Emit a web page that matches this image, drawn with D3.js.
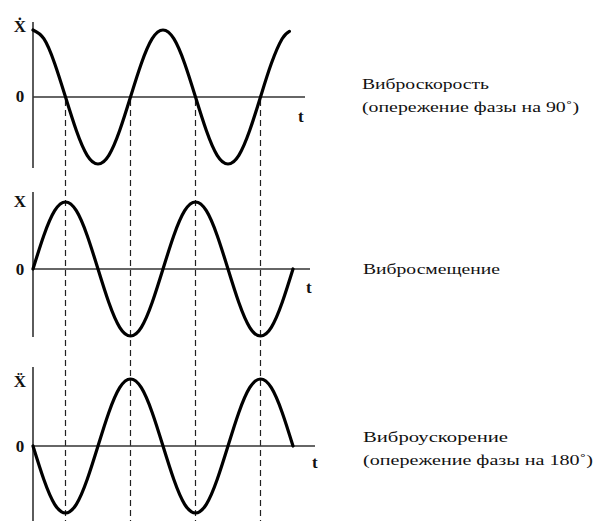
<!DOCTYPE html>
<html>
<head>
<meta charset="utf-8">
<script src="https://cdn.jsdelivr.net/npm/d3@7"></script>
<style>
  html, body { margin: 0; padding: 0; background: #fff; }
  svg { display: block; }
</style>
</head>
<body>
<svg id="chart" width="595" height="521"></svg>
<script>
// Phase (degrees) sampled every 30°
const phase = [0,30,60,90,120,150,180,210,240,270,300,330,360,390,420,450,480,510,540,570,600,630,660,690,720];
// Vibration velocity (leads displacement by 90°), normalised
const velocity = [1,0.87,0.5,0,-0.5,-0.87,-1,-0.87,-0.5,0,0.5,0.87,1,0.87,0.5,0,-0.5,-0.87,-1,-0.87,-0.5,0,0.5,0.87,0.98];
// Vibration displacement
const displacement = [0,0.5,0.87,1,0.87,0.5,0,-0.5,-0.87,-1,-0.87,-0.5,0,0.5,0.87,1,0.87,0.5,0,-0.5,-0.87,-1,-0.87,-0.5,0];
// Vibration acceleration (leads displacement by 180°)
const acceleration = [0,-0.5,-0.87,-1,-0.87,-0.5,0,0.5,0.87,1,0.87,0.5,0,-0.5,-0.87,-1,-0.87,-0.5,0,0.5,0.87,1,0.87,0.5,0];
// Velocity series ends slightly before 720°
const velocityEnd = 710;
// Dashed reference phases
const markers = [90,270,450,630];

const panelLabels = ["Ẋ","X","Ẍ"];
const captions = [
  ["Виброскорость","(опережение фазы на 90˚)"],
  ["Вибросмещение"],
  ["Виброускорение","(опережение фазы на 180˚)"]
];

const SERIF = "Liberation Serif";
const svg = d3.select("#chart");
const x = d3.scaleLinear().domain([0,720]).range([33,293]);

const panels = [
  {vals: velocity, zero: 97, axisTop: 22, axisBot: 168, zeroEnd: 305, tx: 298, ty: 122, labY: 32, zeroY: 102, lastPhase: velocityEnd,
   cap: {x: 362, ys: [89, 112], w: [127, 217]}},
  {vals: displacement, zero: 269, axisTop: 192, axisBot: 337, zeroEnd: 310, tx: 306, ty: 293, labY: 207, zeroY: 275, lastPhase: 720,
   cap: {x: 363, ys: [274], w: [137]}},
  {vals: acceleration, zero: 446, axisTop: 367, axisBot: 521, zeroEnd: 315, tx: 312, ty: 468, labY: 387, zeroY: 452, lastPhase: 720,
   cap: {x: 363, ys: [442, 465], w: [145, 230]}}
];

// Dashed vertical lines
svg.append("g").selectAll("line").data(markers).join("line")
  .attr("x1", d => x(d)).attr("x2", d => x(d))
  .attr("y1", 100).attr("y2", 521)
  .attr("stroke", "#222").attr("stroke-width", 1.2)
  .attr("stroke-dasharray", "6,4");

panels.forEach((p, i) => {
  const y = d3.scaleLinear().domain([-1,1]).range([p.zero + 67, p.zero - 67]);
  const g = svg.append("g");
  // vertical axis
  g.append("line").attr("x1", 33).attr("x2", 33).attr("y1", p.axisTop).attr("y2", p.axisBot)
    .attr("stroke", "#333").attr("stroke-width", 1.6);
  // zero line (time axis)
  g.append("line").attr("x1", 33).attr("x2", p.zeroEnd).attr("y1", p.zero).attr("y2", p.zero)
    .attr("stroke", "#333").attr("stroke-width", 1.6);

  const pts = phase.map((ph, k) => [k === phase.length - 1 ? p.lastPhase : ph, p.vals[k]]);
  const line = d3.line().x(d => x(d[0])).y(d => y(d[1])).curve(d3.curveNatural);
  g.append("path").attr("d", line(pts))
    .attr("fill", "none").attr("stroke", "#000").attr("stroke-width", 3.2)
    .attr("stroke-linejoin", "round").attr("stroke-linecap", "round");

  // labels
  g.append("text").attr("x", 20).attr("y", p.labY).attr("text-anchor", "middle")
    .attr("font-family", SERIF).attr("font-weight", "bold")
    .attr("font-size", 17).attr("fill", "#111").text(panelLabels[i]);
  g.append("text").attr("x", 20).attr("y", p.zeroY).attr("text-anchor", "middle")
    .attr("font-family", SERIF).attr("font-weight", "bold")
    .attr("font-size", 17).attr("fill", "#111").text("0");
  g.append("text").attr("x", p.tx).attr("y", p.ty)
    .attr("font-family", SERIF).attr("font-weight", "bold")
    .attr("font-size", 17).attr("fill", "#111").text("t");

  captions[i].forEach((c, j) => {
    g.append("text").attr("x", p.cap.x).attr("y", p.cap.ys[j])
      .attr("font-family", SERIF).attr("font-size", 15)
      .attr("textLength", p.cap.w[j]).attr("lengthAdjust", "spacingAndGlyphs")
      .attr("fill", "#111").text(c);
  });
});
</script>
</body>
</html>
